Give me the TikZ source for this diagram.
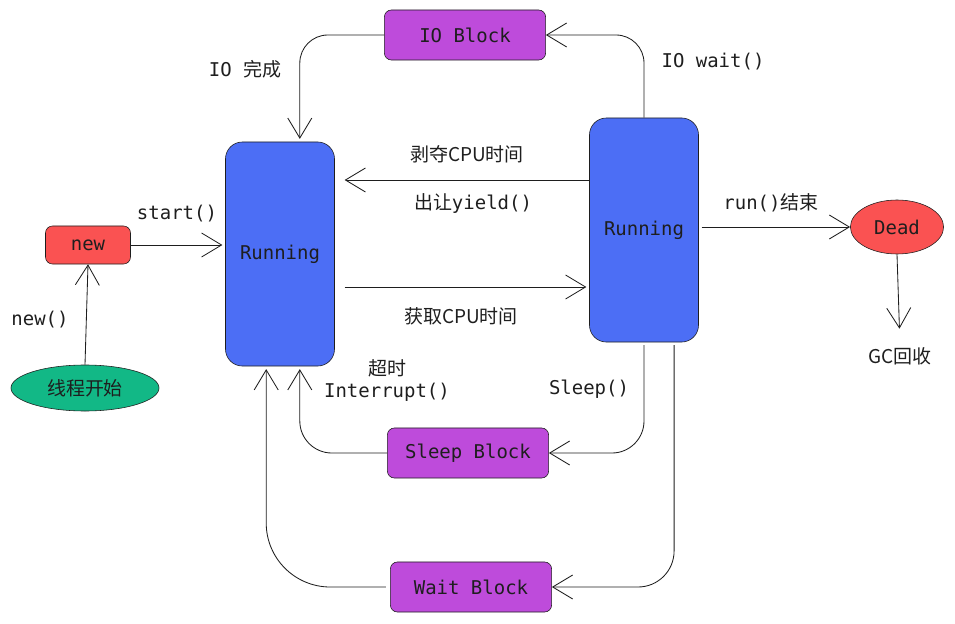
\documentclass[tikz,border=0pt]{standalone}
\usepackage{fontspec}
\setmonofont{DejaVu Sans Mono}
\newfontfamily\cjk{Noto Sans CJK SC}
\usetikzlibrary{arrows.meta,shapes.geometric}
\definecolor{ThdInk}{HTML}{1E1E1E}
\definecolor{ThdBlue}{HTML}{4C6EF5}
\definecolor{ThdPurple}{HTML}{BE4BDB}
\definecolor{ThdRed}{HTML}{FA5252}
\definecolor{ThdGreen}{HTML}{12B886}
\tikzset{
  thdtext/.style={
    text=ThdInk,
    font=\ttfamily\fontsize{13.5}{16}\selectfont,
    inner sep=1pt
  },
  thdrun/.style={
    thdtext,
    draw=ThdInk,
    fill=ThdBlue,
    rounded corners=12pt,
    minimum width=2.725cm,
    minimum height=5.6cm
  },
  thdblock/.style={
    thdtext,
    draw=ThdInk,
    fill=ThdPurple,
    rounded corners=5pt,
    minimum width=4.03cm,
    minimum height=1.25cm
  },
  thdoval/.style={
    thdtext,
    draw=ThdInk,
    ellipse
  },
  thdarrow/.style={-{Straight Barb[length=5mm,width=6mm]},semithick,draw=ThdInk}
}

\begin{document}
\begin{tikzpicture}[x=0.025cm,y=-0.025cm]
    \useasboundingbox (0,0) rectangle (955,624);
    % states
    \node[thdblock] (IOB) at (465,35) {IO Block};
    \node[thdrun] (RunL) at (280,254) {Running};
    \node[thdrun] (RunR) at (644,230) {Running};
    \node[thdtext,draw=ThdInk,fill=ThdRed,rounded corners=5pt,minimum width=2.125cm,minimum height=0.95cm] (New) at (88,245) {new};
    \node[thdoval,fill=ThdGreen,minimum width=3.7cm,minimum height=1.15cm] (Begin) at (85,388) {\cjk 线程开始};
    \node[thdoval,fill=ThdRed,minimum width=2.33cm,minimum height=1.35cm] (Dead) at (897,227) {Dead};
    \node[thdtext] (GC) at (900,356) {\cjk GC回收};
    \node[thdblock] (SlB) at (468,453) {Sleep Block};
    \node[thdblock] (WtB) at (471,587) {Wait Block};
    % labels
    \node[thdtext] (lStart) at (177,214) {start()};
    \node[thdtext] (lNew) at (40,320) {new()};
    \node[thdtext] (lIODone) at (245,69) {IO {\cjk 完成}};
    \node[thdtext] (lIOWait) at (713,62) {IO wait()};
    \node[thdtext] (lTake) at (467,154) {\cjk 剥夺CPU时间};
    \node[thdtext] (lYield) at (473,204) {{\cjk 出让}yield()};
    \node[thdtext] (lGet) at (461,316) {\cjk 获取CPU时间};
    \node[thdtext] (lEnd) at (771,203) {run(){\cjk 结束}};
    \node[thdtext] (lTimeout) at (387,368) {\cjk 超时};
    \node[thdtext] (lIntr) at (387,392) {Interrupt()};
    \node[thdtext] (lSleep) at (589,389) {Sleep()};
    % transitions
    \draw[thdarrow] (Begin.north) -- (New.south);
    \draw[thdarrow,shorten >=2pt] (New.east) -- (RunL.west |- New.east);
    \draw[thdarrow,shorten >=2pt,rounded corners=0.7cm] (IOB.west) -| (RunL.80);
    \draw[thdarrow,rounded corners=0.7cm] (RunR.north) |- (IOB.east);
    \draw[thdarrow,shorten >=7pt] (RunR.west |- {(0,180)}) -- (RunL.east |- {(0,180)});
    \draw[thdarrow,shorten >=2pt,shorten <=7pt] (RunL.east |- {(0,287)}) -- (RunR.west |- {(0,287)});
    \draw[thdarrow,shorten <=2pt] (RunR.east |- Dead.west) -- (Dead.west);
    \draw[thdarrow,shorten >=12pt] (Dead.south) -- (GC.north);
    \draw[thdarrow,shorten <=2pt,rounded corners=0.8cm] (RunR.south) |- (SlB.east);
    \draw[thdarrow,shorten <=2pt,rounded corners=0.9cm] (RunR.-75) |- (WtB.east);
    \draw[thdarrow,shorten >=2pt,rounded corners=0.8cm] (SlB.west) -| (RunL.-80);
    \draw[thdarrow,shorten >=2pt,shorten <=3pt,rounded corners=1.6cm] (WtB.west) -| (RunL.-97);
  \end{tikzpicture}
\end{document}
